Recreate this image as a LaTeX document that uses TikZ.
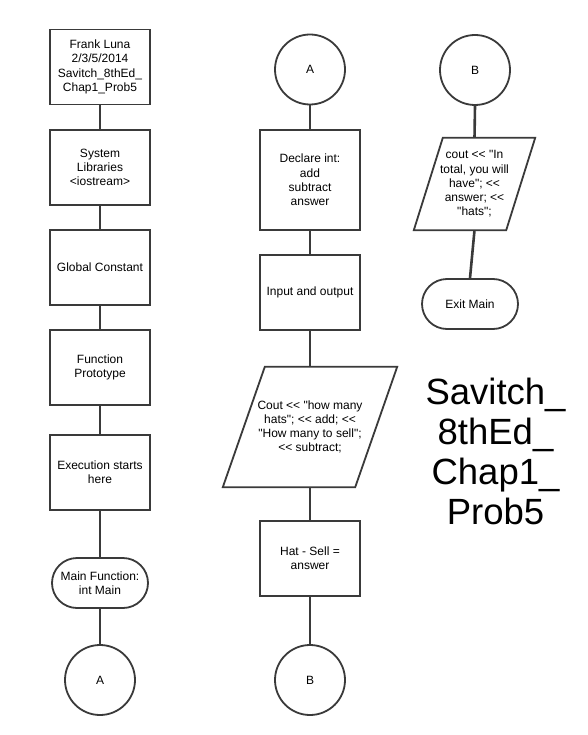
\documentclass[tikz,border=0pt]{standalone}
\usepackage{fontspec}
\setmainfont{Liberation Sans}[Ligatures=TeXOff]
\usetikzlibrary{shapes.misc}
\begin{document}
\begin{tikzpicture}[x=1pt,y=-1pt,
  txt/.style={font=\fontsize{12}{14.2}\selectfont, align=center, text=black},
  proc/.style={txt, draw=lineC, line width=1.8pt, fill=white, rectangle, minimum width=100pt, minimum height=75pt, inner sep=2pt},
  conn/.style={txt, draw=lineC, line width=1.8pt, fill=white, circle, minimum size=70pt, inner sep=0pt},
  term/.style={txt, draw=lineC, line width=1.8pt, fill=white, rounded rectangle, minimum width=100pt, minimum height=50pt, inner sep=2pt},
  iobox/.style={txt, rectangle, inner sep=0pt},
  iodraw/.style={draw=lineC, line width=1.8pt, fill=white, line join=miter},
  link/.style={draw=lineC, line width=2.6pt}
]
\definecolor{lineC}{HTML}{3A3A3A}
\useasboundingbox (0,0) rectangle (588,735);
\fill[white] (0,0) rectangle (588,735);

% Left column
\node[proc] (h) at (100,67) {Frank Luna\\2/3/5/2014\\Savitch\_8thEd\_\\Chap1\_Prob5};
\node[proc] (lib) at (100,167.5) {System\\Libraries\\<iostream>};
\node[proc] (gc) at (100,267.5) {Global Constant};
\node[proc] (fp) at (100,367.5) {Function\\Prototype};
\node[proc] (ex) at (100,472.5) {Execution starts\\here};
\node[term] (mf) at (100,583) {Main Function:\\int Main};
\node[conn] (ca) at (100,680) {A};

% Middle column
\node[conn] (ca2) at (310,69.5) {A};
\node[proc, minimum height=100pt] (dec) at (310,180) {Declare int:\\add\\subtract\\answer};
\node[proc] (io) at (310,292.5) {Input and output};
\node[iobox, minimum width=132pt, minimum height=120pt] (p1) at (310,427) {Cout << "how many\\hats"; << add; <<\\"How many to sell";\\<< subtract;};
\node[proc] (hs) at (310,558.5) {Hat - Sell =\\answer};
\node[conn] (cb) at (310,680) {B};

% Right column
\node[conn] (cb2) at (475,70) {B};
\node[iobox, minimum width=92pt, minimum height=92pt] (p2) at (474.5,184) {cout << "In\\total, you will\\have"; <<\\answer; <<\\"hats";};
\node[term] (em) at (470,304) {Exit Main};

% Title
\node[font=\fontsize{36.5}{39.8}\selectfont, align=center, inner sep=0pt] (title) at (495.5,451.5) {Savitch\_\\8thEd\_\\Chap1\_\\Prob5};

% Connectors
\draw[link] (h.south) -- (lib.north);
\draw[link] (lib.south) -- (gc.north);
\draw[link] (gc.south) -- (fp.north);
\draw[link] (fp.south) -- (ex.north);
\draw[link] (ex.south) -- (mf.north);
\draw[link] (mf.south) -- (ca.north);

\draw[link] (ca2.south) -- (dec.north);
\draw[link] (dec.south) -- (io.north);
\draw[link] (io.south) -- (p1.north);
\draw[link] (p1.south) -- (hs.north);
\draw[link] (hs.south) -- (cb.north);

\draw[link] (cb2.south) -- (p2.north);
\draw[link] (p2.south) -- (em.north);

% Parallelograms (drawn on top of connector ends, then text redrawn)
\draw[iodraw] ([xshift=21pt]p1.north west) -- ([xshift=21pt]p1.north east) -- ([xshift=-21pt]p1.south east) -- ([xshift=-21pt]p1.south west) -- cycle;
\node[txt] at (p1.center) {Cout << "how many\\hats"; << add; <<\\"How many to sell";\\<< subtract;};
\draw[iodraw] ([xshift=14.5pt]p2.north west) -- ([xshift=14.5pt]p2.north east) -- ([xshift=-14.5pt]p2.south east) -- ([xshift=-14.5pt]p2.south west) -- cycle;
\node[txt] at (p2.center) {cout << "In\\total, you will\\have"; <<\\answer; <<\\"hats";};
\end{tikzpicture}
\end{document}
